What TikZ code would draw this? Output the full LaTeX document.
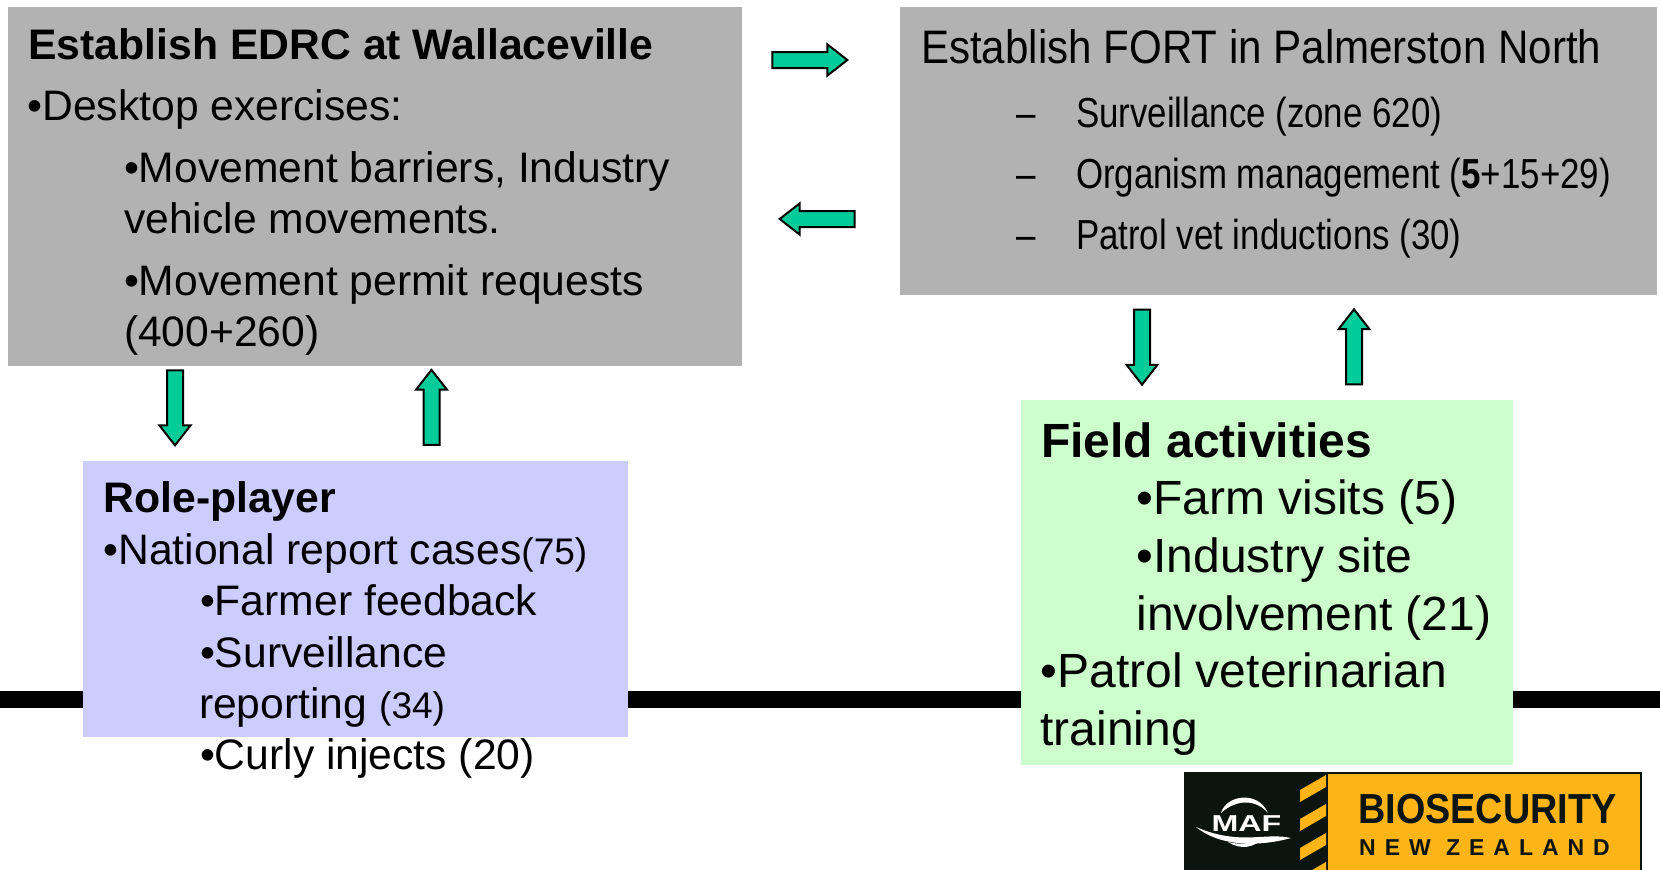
\documentclass[tikz,border=0pt]{standalone}
\usepackage{fontspec}
\setmainfont{Liberation Sans}
\newfontfamily\headfont[FakeStretch=0.896]{Liberation Sans}
\newfontfamily\narrowfont[FakeStretch=0.83]{Liberation Sans}
\newfontfamily\logofont[FakeStretch=0.9]{Liberation Sans}
\newfontfamily\logowide[LetterSpace=39]{Liberation Sans}
\newfontfamily\maffont[FakeStretch=1.4]{Liberation Sans}
\usetikzlibrary{shapes.arrows}
\definecolor{panelgray}{HTML}{B2B2B2}
\definecolor{rolepurple}{HTML}{CCCCFF}
\definecolor{fieldgreen}{HTML}{CCFFCC}
\definecolor{arrowgreen}{HTML}{00CC99}
\definecolor{logoblack}{HTML}{0C1410}
\definecolor{logoyellow}{HTML}{FDB417}
\newcommand{\fs}[1]{\fontsize{#1}{#1}\selectfont}
\newcommand{\blt}{\textbullet}
\tikzset{
 txt/.style={anchor=base west,inner sep=0,outer sep=0,font=\fs{42.65}},
 txtb/.style={txt,font=\fs{42.7}\bfseries},
 fieldt/.style={txt,font=\fs{48}},
 headt/.style={txt,font=\headfont\fs{47}},
 narrowt/.style={txt,font=\narrowfont\fs{42}},
 blockarrow/.style={single arrow,draw=black,line width=2pt,fill=arrowgreen,inner xsep=0pt,inner ysep=7pt,outer sep=0,
   minimum height=75pt,minimum width=29pt,single arrow head extend=7.5pt,single arrow tip angle=76,anchor=center}
}
\begin{document}
\begin{tikzpicture}[x=1pt,y=-1pt]
\useasboundingbox (0,0) rectangle (1660,870);
\fill[white] (0,0) rectangle (1660,870);
% bar
\fill[black] (0,691) rectangle (1660,708);
% panels
\fill[panelgray] (8,7) rectangle (742,366);
\fill[panelgray] (900,7) rectangle (1657,295);
\fill[rolepurple] (83,461) rectangle (628,737);
\fill[fieldgreen] (1021,400) rectangle (1513,765);
% arrows
\node[blockarrow] (a1) at (804.7,60) {};
\node[blockarrow,rotate=180] (a2) at (822.3,219) {};
\node[blockarrow,rotate=-90] (a3) at (175,402.7) {};
\node[blockarrow,rotate=90] (a4) at (431.5,412.5) {};
\node[blockarrow,rotate=-90] (a5) at (1142,342) {};
\node[blockarrow,rotate=90] (a6) at (1354,352) {};
% EDRC
\node[txtb] (t1) at (28.5,59) {Establish EDRC at Wallaceville};
\node[txt] (t2) at (27.5,120.5) {\blt Desktop exercises:};
\node[txt] (t3) at (124,182.5) {\blt Movement barriers, Industry};
\node[txt] (t4) at (124,233.5) {vehicle movements.};
\node[txt] (t5) at (124,295.5) {\blt Movement permit requests};
\node[txt] (t6) at (124,346) {(400+260)};
% FORT
\node[headt] (f1) at (921,63.5) {Establish FORT in Palmerston North};
\node[narrowt] (fd1) at (1016,127) {–};
\node[narrowt] (f2) at (1076,127) {Surveillance (zone 620)};
\node[narrowt] (fd2) at (1016,188) {–};
\node[narrowt] (f3) at (1076,188) {Organism management ({\bfseries 5}+15+29)};
\node[narrowt] (fd3) at (1016,249.5) {–};
\node[narrowt] (f4) at (1076,249.5) {Patrol vet inductions (30)};
% Role
\node[txtb] (r1) at (103.5,512) {Role-player};
\node[txt] (r2) at (103.5,564.5) {\blt National report cases{\fs{37}(75)}};
\node[txt] (r3) at (200,615.5) {\blt Farmer feedback};
\node[txt] (r4) at (200,667) {\blt Surveillance};
\node[txt] (r5) at (199,718.5) {reporting {\fs{37}(34)}};
\node[txt] (r6) at (200,769.5) {\blt Curly injects (20)};
% Field
\node[txtb,font=\fs{48}\bfseries] (g1) at (1041,457) {Field activities};
\node[fieldt] (g2) at (1136.5,514) {\blt Farm visits (5)};
\node[fieldt] (g3) at (1136.5,572) {\blt Industry site};
\node[fieldt] (g4) at (1136.5,630) {involvement (21)};
\node[fieldt] (g5) at (1040.5,687.5) {\blt Patrol veterinarian};
\node[fieldt] (g6) at (1040.5,745) {training};
% logo
\begin{scope}
\clip (0,0) rectangle (1660,870);
\fill[logoblack] (1184,772) rectangle (1642,875);
\fill[logoyellow] (1328,774) rectangle (1640,875);
\foreach \y in {0,29,58,87} {
  \fill[logoyellow] (1300,790+\y) -- (1326,775+\y) -- (1326,787+\y) -- (1300,802+\y) -- cycle;
}
% swoosh and crescents of the emblem
\fill[white] (1196,827) .. controls (1222,848) and (1262,846) .. (1291,838) .. controls (1265,832) and (1240,846) .. (1196,827) -- cycle;
\fill[white] (1221,813) .. controls (1226,795) and (1258,790) .. (1268,813) .. controls (1255,798) and (1235,800) .. (1221,813) -- cycle;
\fill[white] (1228,842) .. controls (1240,850) and (1255,848) .. (1262,838) .. controls (1252,844) and (1240,845) .. (1228,842) -- cycle;
\end{scope}
\node[anchor=base,inner sep=0,text=white,font=\maffont\fs{23}\bfseries] (m) at (1246.5,831) {MAF};
\node[anchor=base west,inner sep=0,text=logoblack,font=\logofont\fs{42}\bfseries] (b1) at (1358,823) {BIOSECURITY};
\node[anchor=base west,inner sep=0,text=logoblack,font=\logowide\fs{23}\bfseries] (b2) at (1359,855) {NEW ZEALAND};
\end{tikzpicture}
\end{document}
